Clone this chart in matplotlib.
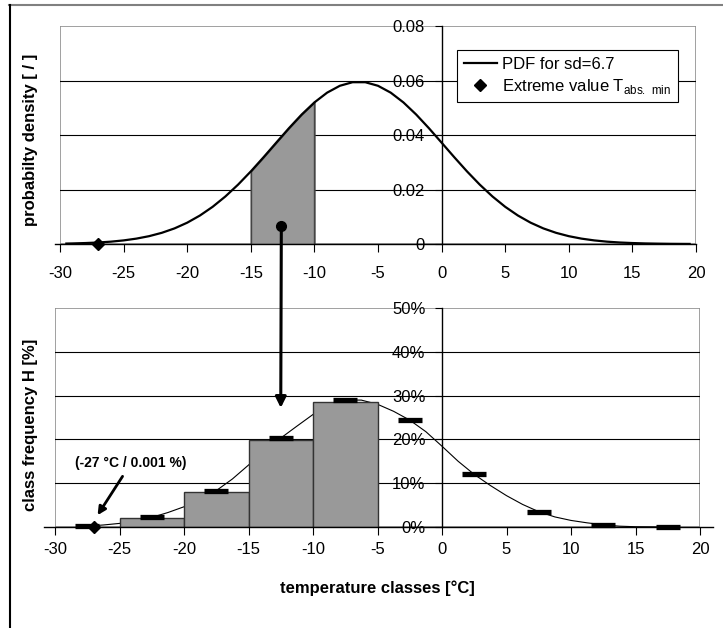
import matplotlib
matplotlib.use("Agg")
import matplotlib.pyplot as plt
from matplotlib.patches import Rectangle, ConnectionPatch
from matplotlib.lines import Line2D
from matplotlib.ticker import FuncFormatter

plt.rcParams['font.family'] = ['Liberation Sans', 'DejaVu Sans']
plt.rcParams['mathtext.fontset'] = 'custom'
plt.rcParams['mathtext.rm'] = 'Liberation Sans'
plt.rcParams['axes.unicode_minus'] = False

# probability density (sd = 6.7)
pdf_x = [-29.5, -29, -28, -27, -26, -25, -24, -23, -22, -21, -20, -19, -18, -17,
         -16, -15, -14, -13, -12, -11, -10, -9, -8, -7, -6, -5, -4, -3, -2, -1,
         0, 1, 2, 3, 4, 5, 6, 7, 8, 9, 10, 11, 12, 13, 14, 15, 16, 17, 18, 19, 19.5]
pdf_y = [0.00016, 0.00021, 0.00035, 0.00055, 0.00086, 0.00132, 0.00197, 0.00287,
         0.00410, 0.00572, 0.00782, 0.01045, 0.01365, 0.01744, 0.02179, 0.02663,
         0.03183, 0.03719, 0.04251, 0.04752, 0.05195, 0.05554, 0.05806, 0.05937,
         0.05937, 0.05806, 0.05554, 0.05195, 0.04752, 0.04251, 0.03719, 0.03183,
         0.02663, 0.02179, 0.01744, 0.01365, 0.01045, 0.00782, 0.00572, 0.00410,
         0.00287, 0.00197, 0.00132, 0.00086, 0.00055, 0.00035, 0.00021, 0.00013,
         0.00007, 0.00004, 0.00003]

# shaded class in the upper panel
class_lo, class_hi = -15, -10
pick_point = (-12.6, 0.0066)

# lower panel: histogram bars (left edge, height in %)
bar_left = [-25, -20, -15, -10]
bar_height = [2.0, 7.9, 19.8, 28.5]

# class frequencies (dashes) at class midpoints, in %
class_mid = [-27.5, -22.5, -17.5, -12.5, -7.5, -2.5, 2.5, 7.5, 12.5, 17.5]
class_freq = [0.2, 2.2, 8.3, 20.3, 29.0, 24.4, 12.0, 3.5, 0.5, 0.0]

# thin smoothed line through the class frequencies, in %
curve_x = [-27.5, -26.25, -25, -23.75, -22.5, -21.25, -20, -18.75, -17.5, -16.25,
           -15, -13.75, -12.5, -11.25, -10, -8.75, -7.5, -6.25, -5, -3.75, -2.5,
           -1.25, 0, 1.25, 2.5, 3.75, 5, 6.25, 7.5, 8.75, 10, 11.25, 12.5, 13.75,
           15, 16.25, 17.5]
curve_y = [0.2, 0.46, 0.82, 1.37, 2.2, 3.3, 4.62, 6.27, 8.3, 10.96, 14.14, 17.39,
           20.3, 23.02, 25.69, 27.84, 29.0, 28.97, 28.02, 26.41, 24.4, 21.76,
           18.44, 15.01, 12.0, 9.47, 7.16, 5.15, 3.5, 2.3, 1.5, 0.95, 0.5, 0.19,
           0.06, 0.03, 0.0]

extreme_t = -27
extreme_top = 0.0
extreme_bottom = 0.001

x_ticks = list(range(-30, 21, 5))
top_yticks = [0, 0.02, 0.04, 0.06, 0.08]
bot_yticks = [0, 10, 20, 30, 40, 50]

W, H = 723, 628
fig = plt.figure(figsize=(W / 100, H / 100), dpi=100)

# outer frame (cropped on right and bottom)
fig.add_artist(Line2D([9 / W, 1], [1 - 4.5 / H, 1 - 4.5 / H], color='#808080', lw=1.5))
fig.add_artist(Line2D([9.5 / W, 9.5 / W], [0, 1 - 4.5 / H], color='black', lw=1.5))

ax1 = fig.add_axes([60 / W, 1 - 244 / H, 636 / W, 218 / H])
ax2 = fig.add_axes([55 / W, 1 - 527 / H, 645 / W, 219 / H])


def style_axes(ax, yticks, fmt, xpad, ext_left, ext_right):
    ax.set_xlim(-30, 20)
    ax.set_ylim(yticks[0], yticks[-1])
    ax.set_xticks(x_ticks)
    ax.set_yticks(yticks)
    ax.yaxis.set_major_formatter(FuncFormatter(fmt))
    for s in ['top', 'right', 'bottom']:
        ax.spines[s].set_visible(False)
    ax.spines['left'].set_position(('data', 0))
    ax.spines['left'].set_linewidth(1.0)
    ax.add_patch(Rectangle((0, 0), 1, 1, transform=ax.transAxes, fill=False,
                           edgecolor='#909090', lw=1.2, zorder=0.5))
    # x axis line, a little longer than the plot area
    ax.plot([-ext_left, 1 + ext_right], [0, 0], transform=ax.transAxes,
            color='black', lw=1.0, clip_on=False, zorder=2.5)
    for v in yticks[1:-1]:
        ax.axhline(v, color='black', lw=0.8, zorder=0.6)
    ax.tick_params(axis='x', direction='out', length=6, pad=xpad, labelsize=12)
    ax.tick_params(axis='y', direction='out', length=5, pad=7, labelsize=12)
    ax.set_facecolor('none')


style_axes(ax1, top_yticks, lambda v, p: '0' if v == 0 else '%.2f' % v, 10,
           5 / 636, 0)
style_axes(ax2, bot_yticks, lambda v, p: '%d%%' % v, 5, 11 / 645, 13 / 645)

# upper panel
xs = [x for x in pdf_x if class_lo <= x <= class_hi]
ys = [y for x, y in zip(pdf_x, pdf_y) if class_lo <= x <= class_hi]
ax1.fill_between(xs, ys, color='#999999', edgecolor='#444444', lw=1.0, zorder=1)
ax1.plot([class_lo, class_lo], [0, ys[0]], color='#444444', lw=1.0, zorder=1)
ax1.plot([class_hi, class_hi], [0, ys[-1]], color='#444444', lw=1.0, zorder=1)
ax1.plot(pdf_x, pdf_y, color='black', lw=1.6, zorder=3, label='PDF for sd=6.7')
ax1.plot([extreme_t], [extreme_top], ls='none', marker='D', ms=6.5, color='black',
         zorder=4, clip_on=False, label=r'Extreme value T$_{\mathrm{abs.\ min}}$')
ax1.plot([pick_point[0]], [pick_point[1]], marker='o', ms=7, color='black', zorder=4)

leg = ax1.legend(loc='upper left', bbox_to_anchor=(0.624, 0.89), fontsize=12,
                 frameon=True, fancybox=False, edgecolor='black', framealpha=1,
                 borderaxespad=0, handlelength=2.0, handletextpad=0.3,
                 labelspacing=0.3, borderpad=0.4)
leg.get_frame().set_linewidth(0.8)

# lower panel
ax2.bar(bar_left, bar_height, width=5, align='edge', color='#999999',
        edgecolor='#333333', lw=1.0, zorder=2)
ax2.plot(curve_x, curve_y, color='black', lw=0.8, zorder=1.5)
ax2.plot(class_mid, class_freq, ls='none', marker='_', ms=17, mew=3.8,
         color='black', zorder=3, clip_on=False)
ax2.plot([extreme_t], [extreme_bottom], ls='none', marker='D', ms=6.5,
         color='black', zorder=4, clip_on=False)
ax2.annotate('(-27 °C / 0.001 %)', xy=(-26.7, 2.7), xytext=(-24.1, 14.6),
             ha='center', va='center', fontsize=10, fontweight='bold',
             arrowprops=dict(arrowstyle='-|>', lw=2, color='black',
                             mutation_scale=12, shrinkA=3, shrinkB=0))

con = ConnectionPatch(xyA=pick_point, coordsA=ax1.transData,
                      xyB=(-12.5, 27.2), coordsB=ax2.transData,
                      arrowstyle='-|>', lw=2.2, mutation_scale=16, color='black',
                      shrinkA=0, shrinkB=0)
fig.add_artist(con)

fig.text(31 / W, 1 - 140 / H, 'probabilty density [ / ]', rotation=90,
         ha='center', va='center', fontsize=12, fontweight='bold')
fig.text(31 / W, 1 - 425 / H, 'class frequency H [%]', rotation=90,
         ha='center', va='center', fontsize=12, fontweight='bold')
fig.text(377 / W, 1 - 588 / H, 'temperature classes [°C]',
         ha='center', va='center', fontsize=12, fontweight='bold')

fig.savefig('out.png', dpi=100)
